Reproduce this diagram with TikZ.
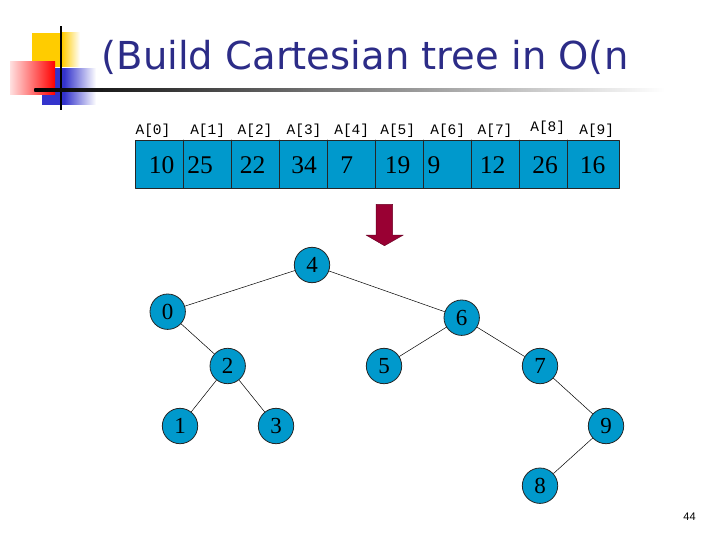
\documentclass[tikz,border=0pt]{standalone}
\usepackage{fontspec}
\setmainfont{Liberation Serif}
\setmonofont{Liberation Mono}
\newfontfamily\titlefont{DejaVu Sans}
\newfontfamily\pagefont{Liberation Sans}
\usepackage{tikz}
\usetikzlibrary{arrows}
\definecolor{cellblue}{RGB}{0,153,204}
\definecolor{titleblue}{RGB}{44,44,135}
\definecolor{arrowred}{RGB}{153,0,51}
\definecolor{sqyellow}{RGB}{255,204,0}
\definecolor{sqblue}{RGB}{51,51,204}
\tikzset{
  treenode/.style={circle,draw=black!85,line width=0.8pt,fill=cellblue,minimum size=35.4pt,inner sep=0pt,font=\fontsize{23}{23}\selectfont},
  cellnum/.style={anchor=base,font=\fontsize{25.5}{25.5}\selectfont},
  cellidx/.style={anchor=base,font=\fontsize{14.5}{14.5}\ttfamily},
  edge/.style={line width=0.5pt,black}
}
\begin{document}
\begin{tikzpicture}[line cap=round,line join=round,>=triangle 45,x=1pt,y=-1pt]
\useasboundingbox (0,0) rectangle (720,540);
% corner squares
\fill[sqyellow] (32,33) rectangle (62,67);
\shade[left color=sqyellow,right color=white] (62,33) rectangle (80,67);
\fill[sqblue] (41.7,68.3) rectangle (64,105);
\shade[left color=sqblue,right color=white] (64,68.3) rectangle (96,105);
\shade[left color=red!12,right color=red] (10,61.7) rectangle (55,95);
\fill[black] (60,26) rectangle (62.2,110);
\shade[left color=black,right color=white] (34.3,88.5) rectangle (665,91.5);
\node[anchor=base west,text=titleblue,inner sep=0pt,font=\titlefont\fontsize{38.5}{38.5}\selectfont] (title) at (101.5,70) {(Build Cartesian tree in O(n};
% array
\draw[fill=cellblue,line width=0.8pt,draw=black!85] (135.7,140) rectangle (619,188);
\foreach \x in {183.3,231.7,279.3,327.7,375.7,423.3,471.7,519.3,567.3}
  \draw[line width=0.8pt,draw=black!85] (\x,140) -- (\x,188);
\foreach \x/\v [count=\i from 0] in {161.7/10,200/25,252.7/22,304/34,346.7/7,397.7/19,434/9,492.7/12,545/26,592.7/16}
  \node[cellnum] (v\i) at (\x,173.3) {\v};
\foreach \x/\y [count=\i from 0] in {153/135,207.7/135,255/135,304/135,351.7/135,397.7/135,447.7/135,495/135,547.7/131.7,596.7/135}
  \node[cellidx] (a\i) at (\x,\y) {A[\i]};
% arrow
\draw[fill=arrowred,draw=arrowred!70!black,line width=0.5pt] (376,204.3) -- (392.7,204.3) -- (392.7,235) -- (403.3,235) -- (384.5,245.7) -- (366,235) -- (376,235) -- cycle;
% tree
\node[treenode] (n4) at (312,265) {4};
\node[treenode] (n0) at (167.7,311.7) {0};
\node[treenode] (n6) at (461.7,317.7) {6};
\node[treenode] (n2) at (227.7,366) {2};
\node[treenode] (n5) at (384,366) {5};
\node[treenode] (n7) at (540,366) {7};
\node[treenode] (n1) at (180,426) {1};
\node[treenode] (n3) at (276,426) {3};
\node[treenode] (n9) at (606,426) {9};
\node[treenode] (n8) at (540,485.7) {8};
\foreach \a/\b in {n4/n0,n4/n6,n0/n2,n6/n5,n6/n7,n2/n1,n2/n3,n7/n9,n9/n8}
  \draw[edge] (\a) -- (\b);
\node[font=\pagefont\fontsize{11}{11}\selectfont] (page) at (689.5,517) {44};
\end{tikzpicture}
\end{document}
